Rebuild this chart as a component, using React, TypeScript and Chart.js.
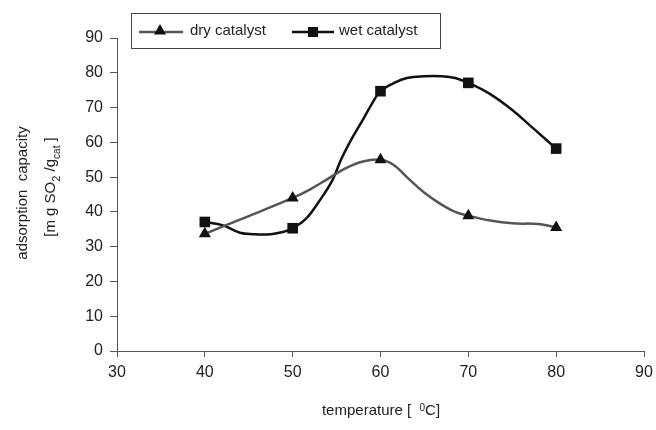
import React, { useEffect, useRef } from "react";
import { Chart, registerables } from "chart.js";

Chart.register(...registerables);

// Values (temperature °C, mg SO2 / g cat)
const dryX = [40, 45, 50, 52, 54, 56, 58, 60, 61.5, 63, 65, 67, 68.5, 70, 72.5, 75, 78, 80];
const dryY = [33.7, 38.8, 44, 46.5, 49.5, 52.5, 54.5, 55, 53.5, 50, 45.5, 42, 40, 38.9, 37.5, 36.7, 36.5, 35.5];
const wetX = [40, 42, 44, 45.5, 47.5, 49, 50, 51.5, 53, 54.5, 55.5, 56.5, 58, 59, 60, 61.5, 63, 65, 67, 68.5, 70, 72.4, 75, 77.4, 80];
const wetY = [37.1, 36.2, 34, 33.6, 33.6, 34.3, 35.3, 38, 43, 49, 55, 60, 66.5, 71, 74.7, 77, 78.5, 79, 79, 78.5, 77.1, 74, 69.3, 64, 58.2];
const markerX = [40, 50, 60, 70, 80];
const seriesNames = ["dry catalyst", "wet catalyst"];
const xTicks = [30, 40, 50, 60, 70, 80, 90];
const yTicks = [0, 10, 20, 30, 40, 50, 60, 70, 80, 90];
const yTitleLine1 = "adsorption  capacity";

const FONT = "'Liberation Sans', Arial, sans-serif";

type Part = { t: string; size: number; dy: number };

function drawRich(ctx: CanvasRenderingContext2D, parts: Part[], x: number, y: number) {
  let total = 0;
  for (const p of parts) {
    ctx.font = `${p.size}px ${FONT}`;
    total += ctx.measureText(p.t).width;
  }
  let cx = x - total / 2;
  ctx.textAlign = "left";
  ctx.textBaseline = "alphabetic";
  for (const p of parts) {
    ctx.font = `${p.size}px ${FONT}`;
    ctx.fillText(p.t, cx, y + p.dy);
    cx += ctx.measureText(p.t).width;
  }
}

function drawTri(ctx: CanvasRenderingContext2D, x: number, y: number, r: number) {
  ctx.beginPath();
  ctx.moveTo(x, y - r);
  ctx.lineTo(x + r * 0.866, y + r * 0.5);
  ctx.lineTo(x - r * 0.866, y + r * 0.5);
  ctx.closePath();
  ctx.fill();
}

export default function App() {
  const ref = useRef<HTMLCanvasElement>(null);

  useEffect(() => {
    if (!ref.current) return;
    const mk = (xs: number[], ys: number[]) => xs.map((x, i) => ({ x, y: ys[i] }));
    const radius = (r: number) => (c: any) => (c.raw && markerX.includes(c.raw.x) ? r : 0);

    const deco = {
      id: "deco",
      afterDraw(chart: any) {
        const ctx: CanvasRenderingContext2D = chart.ctx;
        ctx.save();
        // legend box
        ctx.strokeStyle = "#444";
        ctx.lineWidth = 1;
        ctx.strokeRect(131.5, 13.5, 309, 35);
        const ly = 32;
        // dry
        ctx.strokeStyle = "#555";
        ctx.lineWidth = 2.5;
        ctx.beginPath();
        ctx.moveTo(139, ly);
        ctx.lineTo(183, ly);
        ctx.stroke();
        ctx.fillStyle = "#111";
        drawTri(ctx, 160, ly - 1, 7);
        // wet
        ctx.strokeStyle = "#111";
        ctx.beginPath();
        ctx.moveTo(292, ly);
        ctx.lineTo(334, ly);
        ctx.stroke();
        ctx.fillRect(308, ly - 5, 10, 10);
        ctx.fillStyle = "#222";
        ctx.font = `15px ${FONT}`;
        ctx.textBaseline = "middle";
        ctx.textAlign = "left";
        ctx.fillText(seriesNames[0], 190, ly - 1);
        ctx.fillText(seriesNames[1], 339, ly - 1);

        // x title
        ctx.fillStyle = "#222";
        drawRich(
          ctx,
          [
            { t: "temperature [  ", size: 15, dy: 0 },
            { t: "0", size: 10, dy: -4 },
            { t: "C]", size: 15, dy: 0 },
          ],
          381,
          415
        );

        // y title (rotated)
        ctx.save();
        ctx.translate(27, 193);
        ctx.rotate(-Math.PI / 2);
        drawRich(ctx, [{ t: yTitleLine1, size: 15, dy: 0 }], 0, 0);
        ctx.restore();
        ctx.save();
        ctx.translate(55, 187);
        ctx.rotate(-Math.PI / 2);
        drawRich(
          ctx,
          [
            { t: "[m g SO", size: 15, dy: 0 },
            { t: "2", size: 11, dy: 5 },
            { t: " /g", size: 15, dy: 0 },
            { t: "cat", size: 10, dy: 5 },
            { t: " ]", size: 15, dy: 0 },
          ],
          0,
          0
        );
        ctx.restore();
        ctx.restore();
      },
    };

    const chart = new Chart(ref.current, {
      type: "line",
      data: {
        datasets: [
          {
            label: seriesNames[0],
            data: mk(dryX, dryY),
            borderColor: "#555",
            borderWidth: 2.5,
            tension: 0.4,
            pointStyle: "triangle",
            pointBackgroundColor: "#111",
            pointBorderColor: "#111",
            pointBorderWidth: 0,
            pointRadius: radius(7),
            pointHoverRadius: radius(7),
          },
          {
            label: seriesNames[1],
            data: mk(wetX, wetY),
            borderColor: "#111",
            borderWidth: 2.5,
            tension: 0.4,
            pointStyle: "rect",
            pointBackgroundColor: "#111",
            pointBorderColor: "#111",
            pointBorderWidth: 0,
            pointRadius: radius(7.5),
            pointHoverRadius: radius(7.5),
          },
        ],
      },
      options: {
        responsive: false,
        animation: false,
        devicePixelRatio: 1,
        layout: { padding: { top: 38, right: 12, left: 0, bottom: 0 } },
        plugins: { legend: { display: false }, tooltip: { enabled: false } },
        scales: {
          x: {
            type: "linear",
            min: 30,
            max: 90,
            afterBuildTicks: (s: any) => {
              s.ticks = xTicks.map((v) => ({ value: v }));
            },
            ticks: { color: "#222", font: { size: 16, family: FONT }, padding: 6, maxRotation: 0 },
            grid: { drawOnChartArea: false, drawTicks: true, tickLength: 6, color: "#555" },
            border: { display: true, color: "#555", width: 1 },
            afterFit: (s: any) => {
              s.height = 79;
              s.paddingLeft = 0;
              s.paddingRight = 0;
            },
          },
          y: {
            min: 0,
            max: 90,
            afterBuildTicks: (s: any) => {
              s.ticks = yTicks.map((v) => ({ value: v }));
            },
            ticks: { color: "#222", font: { size: 16, family: FONT }, padding: 7 },
            grid: { drawOnChartArea: false, drawTicks: true, tickLength: 7, color: "#555" },
            border: { display: true, color: "#555", width: 1 },
            afterFit: (s: any) => {
              s.width = 117;
              s.paddingTop = 0;
              s.paddingBottom = 0;
            },
          },
        },
      },
      plugins: [deco],
    } as any);
    return () => chart.destroy();
  }, []);

  return (
    <div style={{ position: "absolute", left: 0, top: 0, width: 656, height: 430, background: "#fff" }}>
      <canvas ref={ref} width={656} height={430} style={{ display: "block", width: 656, height: 430 }} />
    </div>
  );
}
